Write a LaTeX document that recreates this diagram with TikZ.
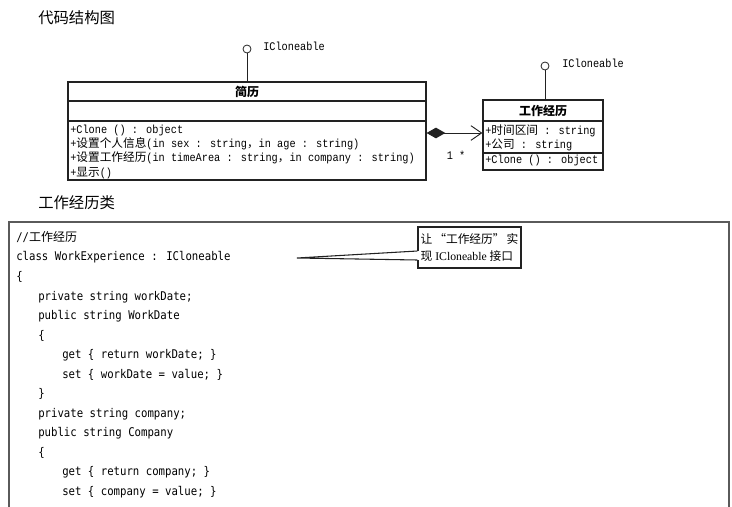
\documentclass[tikz,border=0pt]{standalone}
\usepackage{fontspec}
\setmainfont{Liberation Serif}
\newfontfamily\cjk{Noto Sans CJK SC}
\newfontfamily\umlmono{Liberation Mono}[FakeStretch=0.88]
\newfontfamily\codemono{DejaVu Sans Mono}[FakeStretch=0.89]
\usetikzlibrary{positioning,arrows.meta,calc}
\definecolor{ink}{HTML}{222222}
\definecolor{frame}{HTML}{5A5A5A}
\newcommand\zh[1]{{\cjk #1}}

\begin{document}
\begin{tikzpicture}[
  x=0.75pt, y=-0.75pt,
  font=\umlmono\fontsize{8.75}{10.6}\selectfont,
  classbox/.style={draw=ink, line width=0.9pt, inner sep=0pt},
  divider/.style={draw=ink, line width=0.9pt},
  classname/.style={font=\cjk\bfseries\fontsize{9}{10}\selectfont, inner sep=0pt},
  members/.style={align=left, anchor=north west, inner sep=0pt},
  lollipop/.style={circle, draw=ink, line width=0.6pt, minimum size=6pt, inner sep=0pt},
  iface/.style={anchor=west, inner sep=0pt},
  stem/.style={draw=ink, line width=0.6pt},
  aggr/.style={draw=ink, line width=0.7pt,
    {Diamond[length=14pt,width=8pt]}-{Straight Barb[length=8pt,width=11pt]}},
  heading/.style={font=\cjk\fontsize{11.5}{14}\selectfont, anchor=west, inner sep=0pt},
  codeline/.style={font=\codemono\fontsize{9}{12}\selectfont, anchor=west, inner sep=0pt},
  callout/.style={draw=ink, line width=0.9pt, fill=white, align=left, inner sep=0pt,
    minimum width=77.25pt, minimum height=30.75pt,
    font=\fontsize{8.8}{12.5}\selectfont},
]
\useasboundingbox (0,0) rectangle (732,507);

% --- Code structure (top) ----------------------------------------------------
\node[heading] (title1) at (38,18) {代码结构图};

% class 简历
\node[classbox, minimum width=268.5pt, minimum height=73.5pt] (resume) at (247,131) {};
\node[classname] (resumename) at (247,91.5) {简历};
\draw[divider] (resume.west |- 0,101) -- (resume.east |- 0,101);
\draw[divider] (resume.west |- 0,121) -- (resume.east |- 0,121);
\node[members] (resumeops) at (70,125) {+Clone () : object\\
  +\zh{设置个人信息}(in sex  : string\zh{，}in age : string)\\
  +\zh{设置工作经历}(in timeArea  : string\zh{，}in company  : string)\\
  +\zh{显示}()};

% class 工作经历
\node[classbox, minimum width=90pt, minimum height=52.5pt] (work) at (543,135) {};
\node[classname] (workname) at (543,110.5) {工作经历};
\draw[divider] (work.west |- 0,121) -- (work.east |- 0,121);
\draw[divider] (work.west |- 0,153) -- (work.east |- 0,153);
\node[members] (workattrs) at (485,124.5) {+\zh{时间区间} : string\\+\zh{公司} : string};
\node[members] (workops) at (485,155) {+Clone () : object};

% interfaces
\node[lollipop] (iresume) at (247,49) {};
\node[iface] (iresumelbl) at (263,46) {ICloneable};
\draw[stem] (iresume) -- (resume.north);
\node[lollipop] (iwork) at (545,66) {};
\node[iface] (iworklbl) at (562,63) {ICloneable};
\draw[stem] (iwork) -- (iwork |- work.north);

% aggregation
\coordinate (agg) at (0,133);
\draw[aggr] (resume.east |- agg) -- (work.west |- agg);
\node[inner sep=0pt] (mult) at (456,155) {1 *};

% --- WorkExperience class code (bottom) --------------------------------------
\node[heading] (title2) at (38,203) {工作经历类};
\draw[frame, line width=1.1pt] (9,507) |- (729,222) -- (729,507);

\node[codeline] (c1)  at (16,237) {//\zh{工作经历}};
\node[codeline] (c2)  at (16,257) {class WorkExperience : ICloneable};
\node[codeline] (c3)  at (16,277) {\{};
\node[codeline] (c4)  at (38,297) {private string workDate;};
\node[codeline] (c5)  at (38,316) {public string WorkDate};
\node[codeline] (c6)  at (38,336) {\{};
\node[codeline] (c7)  at (62,355) {get \{ return workDate; \}};
\node[codeline] (c8)  at (62,375) {set \{ workDate = value; \}};
\node[codeline] (c9)  at (38,394) {\}};
\node[codeline] (c10) at (38,414) {private string company;};
\node[codeline] (c11) at (38,433) {public string Company};
\node[codeline] (c12) at (38,453) {\{};
\node[codeline] (c13) at (62,472) {get \{ return company; \}};
\node[codeline] (c14) at (62,492) {set \{ company = value; \}};

% callout
\node[callout] (note) at (469.5,247.5) {\zh{让\,“工作经历”\,实}\\\zh{现} ICloneable \zh{接口}};
\coordinate (tip) at (297,258);
\fill[white] ($(note.west |- 0,251)+(-1pt,0)$) rectangle ($(note.west |- 0,260)+(1pt,0)$);
\draw[ink, line width=0.8pt] (note.west |- 0,251) -- (tip) -- (note.west |- 0,260);

\end{tikzpicture}
\end{document}
